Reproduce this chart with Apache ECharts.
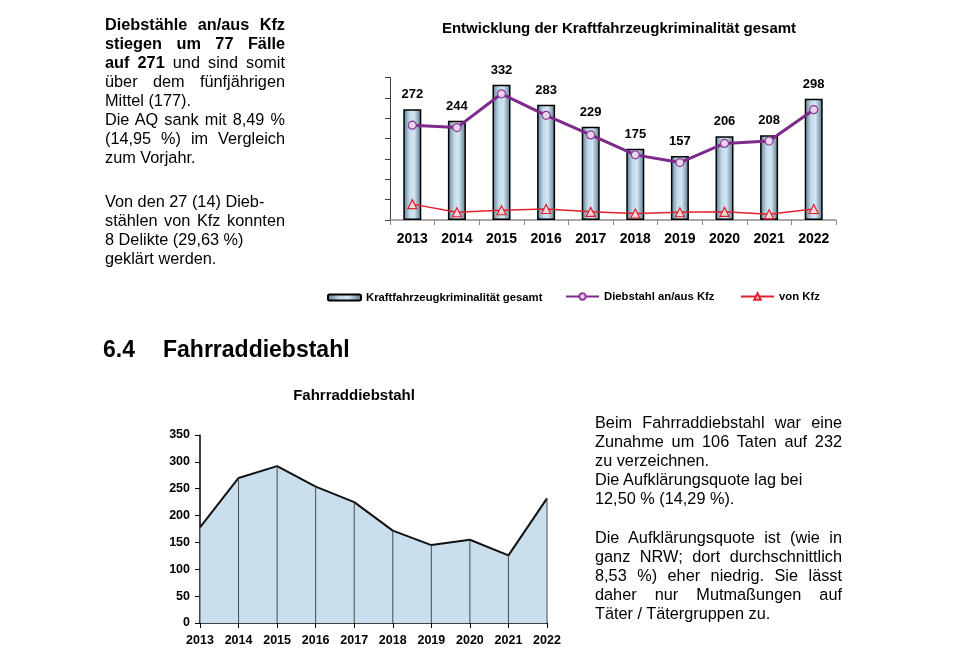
<!DOCTYPE html>
<html>
<head>
<meta charset="utf-8">
<script src="https://cdn.jsdelivr.net/npm/echarts@6/dist/echarts.min.js"></script>
<style>
  html, body { margin: 0; padding: 0; background: #fff; }
  #page { position: relative; width: 953px; height: 671px; overflow: hidden; font-family: "Liberation Sans", Arial, sans-serif; color: #000; }
  #chart { position: absolute; left: 0; top: 0; width: 953px; height: 671px; }
  .txt { position: absolute; font-size: 16.3px; line-height: 19px; }
  .ln { white-space: nowrap; height: 19px; }
  .j { text-align: justify; text-align-last: justify; }
  .h { position: absolute; font-weight: bold; font-size: 23px; top: 336px; }
</style>
</head>
<body>
<div id="page">
  <div id="chart"></div>
  <div class="txt" style="left:105px; top:15px; width:180px;">
    <div class="ln j"><b>Diebstähle an/aus Kfz</b></div>
    <div class="ln j"><b>stiegen um 77 Fälle</b></div>
    <div class="ln j"><b>auf 271</b> und sind somit</div>
    <div class="ln j">über dem fünfjährigen</div>
    <div class="ln">Mittel (177).</div>
    <div class="ln j">Die AQ sank mit 8,49 %</div>
    <div class="ln j">(14,95 %) im Vergleich</div>
    <div class="ln">zum Vorjahr.</div>
    <div style="height:25px"></div>
    <div class="ln">Von den 27 (14) Dieb-</div>
    <div class="ln j">stählen von Kfz konnten</div>
    <div class="ln">8 Delikte (29,63 %)</div>
    <div class="ln">geklärt werden.</div>
  </div>
  <div class="h" style="left:103px;">6.4</div>
  <div class="h" style="left:163px;">Fahrraddiebstahl</div>
  <div class="txt" style="left:595px; top:413px; width:247px;">
    <div class="ln j">Beim Fahrraddiebstahl war eine</div>
    <div class="ln j">Zunahme um 106 Taten auf 232</div>
    <div class="ln">zu verzeichnen.</div>
    <div class="ln">Die Aufklärungsquote lag bei</div>
    <div class="ln">12,50 % (14,29 %).</div>
    <div style="height:20px"></div>
    <div class="ln j">Die Aufklärungsquote ist (wie in</div>
    <div class="ln j">ganz NRW; dort durchschnittlich</div>
    <div class="ln j">8,53 %) eher niedrig. Sie lässt</div>
    <div class="ln j">daher nur Mutmaßungen auf</div>
    <div class="ln">Täter / Tätergruppen zu.</div>
  </div>
</div>
<script>
const years = ['2013','2014','2015','2016','2017','2018','2019','2020','2021','2022'];
const kfzGesamt = [272, 244, 332, 283, 229, 175, 157, 206, 208, 298];
const diebstahlAnAus = [233, 227, 310, 257, 209, 160, 141, 188, 194, 271];
const vonKfz = [39, 19, 24, 27, 20, 16, 19, 20, 14, 27];
const fahrrad = [178, 270, 292, 254, 225, 172, 145, 155, 126, 232];

const FONT = '"Liberation Sans", Arial, sans-serif';
const chart = echarts.init(document.getElementById('chart'), null, { renderer: 'canvas' });

const barGrad = new echarts.graphic.LinearGradient(0, 0, 1, 0, [
  { offset: 0, color: '#587a90' },
  { offset: 0.35, color: '#c3daea' },
  { offset: 0.6, color: '#d3e6f2' },
  { offset: 1, color: '#54768a' }
]);

const legendText = { fontSize: 11.3, fontWeight: 'bold', color: '#000', fontFamily: FONT };

chart.setOption({
  animation: false,
  textStyle: { fontFamily: FONT },
  title: [
    { text: 'Entwicklung der Kraftfahrzeugkriminalität gesamt', left: 614, top: 16, textAlign: 'center',
      textStyle: { fontSize: 15, fontWeight: 'bold', color: '#000', fontFamily: FONT } },
    { text: 'Fahrraddiebstahl', left: 349, top: 383, textAlign: 'center',
      textStyle: { fontSize: 15, fontWeight: 'bold', color: '#000', fontFamily: FONT } }
  ],
  legend: [
    { left: 327, top: 292, padding: 0, itemWidth: 33, itemHeight: 6, data: ['Kraftfahrzeugkriminalität gesamt'], textStyle: legendText },
    { left: 565, top: 291, padding: 0, itemWidth: 33, itemHeight: 8, data: ['Diebstahl an/aus Kfz'], textStyle: legendText },
    { left: 740, top: 291, padding: 0, itemWidth: 33, itemHeight: 8, data: ['von Kfz'], textStyle: legendText }
  ],
  grid: [
    { left: 390, top: 77.5, width: 446, height: 142.5 },
    { left: 200, top: 435, width: 347, height: 188 }
  ],
  xAxis: [
    { type: 'category', gridIndex: 0, data: years, boundaryGap: true,
      axisLine: { lineStyle: { color: '#8c8c8c', width: 1.5 } },
      axisTick: { show: true, length: 5, interval: 0, lineStyle: { color: '#8c8c8c' } },
      axisLabel: { fontSize: 14, fontWeight: 'bold', color: '#000', margin: 12, interval: 0, fontFamily: FONT } },
    { type: 'category', gridIndex: 1, data: years, boundaryGap: false,
      axisLine: { lineStyle: { color: '#000', width: 1.5 } },
      axisTick: { show: true, length: 5, interval: 0, lineStyle: { color: '#000' } },
      axisLabel: { fontSize: 12.5, fontWeight: 'bold', color: '#000', margin: 11, interval: 0, fontFamily: FONT } }
  ],
  yAxis: [
    { type: 'value', gridIndex: 0, min: 0, max: 350, interval: 50,
      axisLine: { show: true, lineStyle: { color: '#404040', width: 1 } },
      axisTick: { show: true, length: 5, lineStyle: { color: '#404040' } },
      axisLabel: { show: false }, splitLine: { show: false } },
    { type: 'value', gridIndex: 1, min: 0, max: 350, interval: 50,
      axisLine: { show: true, lineStyle: { color: '#000', width: 1.5 } },
      axisTick: { show: true, length: 5, lineStyle: { color: '#000' } },
      axisLabel: { fontSize: 12.5, fontWeight: 'bold', color: '#000', margin: 10, fontFamily: FONT },
      splitLine: { show: false } }
  ],
  series: [
    { name: 'Kraftfahrzeugkriminalität gesamt', type: 'bar', xAxisIndex: 0, yAxisIndex: 0,
      data: kfzGesamt, barWidth: 18,
      itemStyle: { color: barGrad, borderColor: '#000', borderWidth: 1.5 },
      label: { show: true, position: 'top', distance: 8, fontSize: 13, fontWeight: 'bold', color: '#000', fontFamily: FONT } },
    { name: 'Diebstahl an/aus Kfz', type: 'line', xAxisIndex: 0, yAxisIndex: 0,
      data: diebstahlAnAus, symbol: 'circle', symbolSize: 8, z: 3,
      lineStyle: { color: '#7d2a8c', width: 3 },
      itemStyle: { color: '#ecd3ec', borderColor: '#8a3a98', borderWidth: 1.2 } },
    { name: 'von Kfz', type: 'line', xAxisIndex: 0, yAxisIndex: 0,
      data: vonKfz, symbol: 'triangle', symbolSize: 9, z: 3,
      lineStyle: { color: '#e0202e', width: 1.5 },
      itemStyle: { color: '#f9d6da', borderColor: '#e0202e', borderWidth: 1.2 } },
    { name: 'Fahrraddiebstahl', type: 'line', xAxisIndex: 1, yAxisIndex: 1,
      data: fahrrad, symbol: 'none', z: 2,
      lineStyle: { color: '#111', width: 2 },
      areaStyle: { color: '#c9dfee', opacity: 1 } },
    { name: 'drop', type: 'custom', xAxisIndex: 1, yAxisIndex: 1,
      data: fahrrad.map((v, i) => [i, v]), encode: { x: 0, y: 1 }, z: 5,
      renderItem: function (params, api) {
        const p0 = api.coord([api.value(0), 0]);
        const p1 = api.coord([api.value(0), api.value(1)]);
        return { type: 'line', shape: { x1: p0[0], y1: p0[1], x2: p1[0], y2: p1[1] },
          style: { stroke: '#4a4a4a', lineWidth: 1 } };
      } }
  ]
});
</script>
</body>
</html>
